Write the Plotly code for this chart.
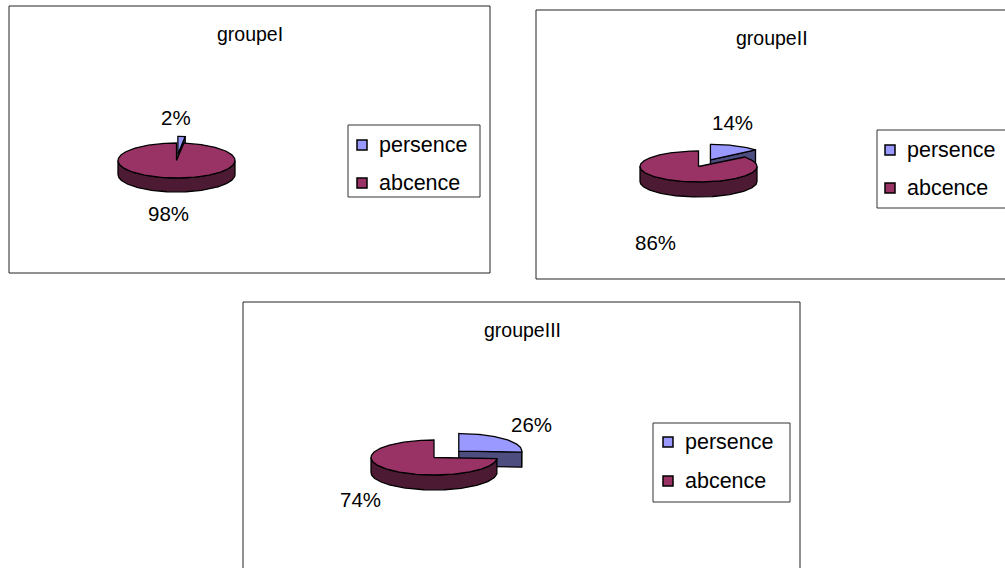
import numpy as np
import plotly.graph_objects as go

# ---- data -------------------------------------------------------------
groups = ["groupeI", "groupeII", "groupeIII"]
categories = ["persence", "abcence"]
persence = [2, 14, 26]
abcence = [98, 86, 74]

# ---- styling ----------------------------------------------------------
top_colors = ["#9999FF", "#993366"]
side_colors = ["#4D4D80", "#4D1A33"]
explode_cat = [True, False]
FONT = "Liberation Sans, Arial, sans-serif"

# one panel per group: frame, title, pie geometry, label anchors, legend
panels = [
    dict(box=(9, 6, 490, 273), title=(250, 34),
         pie=dict(cx=176.5, cy=160.5, rx=58.5, ry=17.5, depth=14, explode=22),
         labels=[(176, 117), (168, 213)],
         legend=dict(box=(348, 125, 480, 197), rows=(145, 183), sq_x=362, text_x=377)),
    dict(box=(536, 10, 1012, 279), title=(772, 38),
         pie=dict(cx=698.5, cy=166.5, rx=58.5, ry=15.5, depth=15, explode=28),
         labels=[(732, 122), (655, 242)],
         legend=dict(box=(877, 130, 1012, 208), rows=(150, 188), sq_x=890, text_x=905)),
    dict(box=(243, 302, 800, 580), title=(522, 330),
         pie=dict(cx=434, cy=457.5, rx=63, ry=17.5, depth=15, explode=34),
         labels=[(531, 424), (360, 499)],
         legend=dict(box=(653, 423, 790, 502), rows=(442, 481), sq_x=668, text_x=683)),
]


def arc(cx, cy, rx, ry, a0, a1):
    """Points on the projected rim, angles clockwise from 12 o'clock."""
    n = max(2, int(abs(a1 - a0)) + 2)
    t = np.radians(np.linspace(a0, a1, n))
    return cx + rx * np.sin(t), cy - ry * np.cos(t)


def poly(xs, ys, color):
    return go.Scatter(
        x=list(xs) + [xs[0]], y=list(ys) + [ys[0]],
        mode="lines", fill="toself", fillcolor=color,
        line=dict(color="black", width=1.3),
        hoverinfo="skip", showlegend=False,
    )


fig = go.Figure()
shapes = []
annotations = []

for g, name in enumerate(groups):
    p = panels[g]
    geo = p["pie"]
    vals = [persence[g], abcence[g]]
    total = sum(vals)
    cum = np.concatenate([[0], np.cumsum(vals)]) / total * 360.0

    # frame and title
    x0, y0, x1, y1 = p["box"]
    shapes.append(dict(type="rect", xref="x", yref="y", x0=x0, y0=y0, x1=x1, y1=y1,
                       line=dict(color="#222222", width=1), fillcolor="rgba(0,0,0,0)"))
    annotations.append(dict(x=p["title"][0], y=p["title"][1], xref="x", yref="y",
                            text=name, showarrow=False,
                            font=dict(family=FONT, size=19.5, color="black")))

    # slices, the exploded (back) slice first
    for k in range(len(vals)):
        a0, a1 = cum[k], cum[k + 1]
        mid = np.radians((a0 + a1) / 2)
        e = geo["explode"] if explode_cat[k] else 0.0
        cx = geo["cx"] + e * np.sin(mid)
        cy = geo["cy"] - e * np.cos(mid) * geo["ry"] / geo["rx"]
        rx, ry, d = geo["rx"], geo["ry"], geo["depth"]

        # radial cut faces that turn towards the viewer
        for phi, normal in ((a0, a0 - 90), (a1, a1 + 90)):
            if np.cos(np.radians(normal)) < -1e-9:
                px, py = arc(cx, cy, rx, ry, phi, phi)
                fig.add_trace(poly([cx, px[0], px[0], cx],
                                   [cy, py[0], py[0] + d, cy + d], side_colors[k]))

        # front part of the curved wall
        lo, hi = max(a0, 90.0), min(a1, 270.0)
        if hi > lo:
            ax, ay = arc(cx, cy, rx, ry, lo, hi)
            fig.add_trace(poly(np.concatenate([ax, ax[::-1]]),
                               np.concatenate([ay, (ay + d)[::-1]]), side_colors[k]))

        # top face
        ax, ay = arc(cx, cy, rx, ry, a0, a1)
        fig.add_trace(poly(np.concatenate([[cx], ax]), np.concatenate([[cy], ay]),
                           top_colors[k]))

        # percentage label
        lx, ly = p["labels"][k]
        annotations.append(dict(x=lx, y=ly, xref="x", yref="y",
                                text=f"{vals[k]}%", showarrow=False,
                                font=dict(family=FONT, size=20.5, color="black")))

    # legend block
    lg = p["legend"]
    bx0, by0, bx1, by1 = lg["box"]
    shapes.append(dict(type="rect", xref="x", yref="y", x0=bx0, y0=by0, x1=bx1, y1=by1,
                       line=dict(color="#333333", width=1), fillcolor="white"))
    for k, cat in enumerate(categories):
        ry_ = lg["rows"][k]
        shapes.append(dict(type="rect", xref="x", yref="y",
                           x0=lg["sq_x"] - 5, x1=lg["sq_x"] + 5, y0=ry_ - 5, y1=ry_ + 5,
                           line=dict(color="black", width=1.5), fillcolor=top_colors[k]))
        annotations.append(dict(x=lg["text_x"], y=ry_, xref="x", yref="y",
                                text=cat, showarrow=False, xanchor="left",
                                font=dict(family=FONT, size=21.5, color="black")))

fig.update_layout(
    width=1005, height=568,
    margin=dict(l=0, r=0, t=0, b=0),
    paper_bgcolor="white", plot_bgcolor="white",
    xaxis=dict(range=[0, 1005], visible=False, fixedrange=True),
    yaxis=dict(range=[568, 0], visible=False, fixedrange=True),
    shapes=shapes, annotations=annotations,
    showlegend=False,
)

fig.write_html("out.html")
